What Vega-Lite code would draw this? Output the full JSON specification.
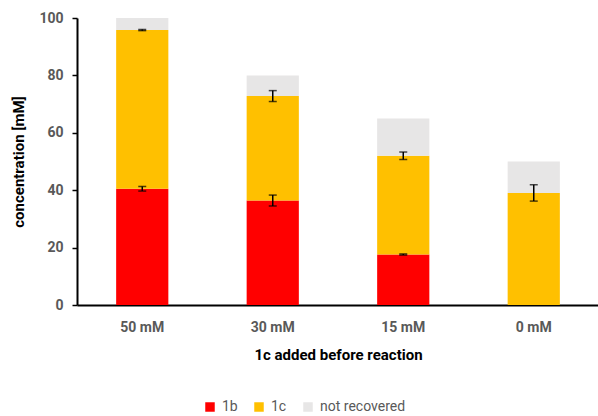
{
  "$schema": "https://vega.github.io/schema/vega-lite/v6.json",
  "width": 522,
  "height": 287,
  "autosize": "none",
  "padding": {"left": 77, "top": 18, "right": 0, "bottom": 111},
  "background": "white",
  "config": {
    "view": {"stroke": null},
    "font": "Roboto"
  },
  "datasets": {
    "bars": [
      {"condition": "50 mM", "component": "1b", "value": 40.5},
      {"condition": "50 mM", "component": "1c", "value": 55.3},
      {"condition": "50 mM", "component": "not recovered", "value": 4.2},
      {"condition": "30 mM", "component": "1b", "value": 36.4},
      {"condition": "30 mM", "component": "1c", "value": 36.4},
      {"condition": "30 mM", "component": "not recovered", "value": 7.2},
      {"condition": "15 mM", "component": "1b", "value": 17.6},
      {"condition": "15 mM", "component": "1c", "value": 34.4},
      {"condition": "15 mM", "component": "not recovered", "value": 13.0},
      {"condition": "0 mM", "component": "1b", "value": 0},
      {"condition": "0 mM", "component": "1c", "value": 39.0},
      {"condition": "0 mM", "component": "not recovered", "value": 11.0}
    ],
    "errors": [
      {"condition": "50 mM", "lo": 39.7, "hi": 41.3},
      {"condition": "50 mM", "lo": 95.6, "hi": 96.0},
      {"condition": "30 mM", "lo": 34.5, "hi": 38.3},
      {"condition": "30 mM", "lo": 70.9, "hi": 74.7},
      {"condition": "15 mM", "lo": 17.4, "hi": 17.8},
      {"condition": "15 mM", "lo": 50.7, "hi": 53.3},
      {"condition": "0 mM", "lo": 36.2, "hi": 41.9}
    ]
  },
  "encoding": {
    "x": {
      "field": "condition",
      "type": "nominal",
      "sort": ["50 mM", "30 mM", "15 mM", "0 mM"],
      "scale": {"paddingInner": 0.6, "paddingOuter": 0.3},
      "axis": {
        "title": "1c added before reaction",
        "titleFontSize": 15,
        "titleFontWeight": "bold",
        "titleColor": "#000000",
        "titlePadding": 13,
        "labelAngle": 0,
        "labelFontSize": 14,
        "labelFontWeight": "bold",
        "labelColor": "#595959",
        "labelPadding": 15,
        "ticks": false,
        "domainColor": "#000000",
        "domainWidth": 2
      }
    }
  },
  "layer": [
    {
      "data": {"name": "bars"},
      "mark": {"type": "bar"},
      "encoding": {
        "y": {
          "field": "value",
          "type": "quantitative",
          "stack": "zero",
          "scale": {"domain": [0, 100]},
          "axis": {
            "title": "concentration [mM]",
            "titleFontSize": 15,
            "titleFontWeight": "bold",
            "titleColor": "#000000",
            "titlePadding": 12,
            "values": [0, 20, 40, 60, 80, 100],
            "grid": false,
            "labelFontSize": 14,
            "labelFontWeight": "bold",
            "labelColor": "#595959",
            "labelPadding": 9,
            "tickColor": "#000000",
            "tickSize": 5,
            "tickWidth": 1.5,
            "domainColor": "#000000",
            "domainWidth": 2
          }
        },
        "color": {
          "field": "component",
          "type": "nominal",
          "scale": {
            "domain": ["1b", "1c", "not recovered"],
            "range": ["#FF0000", "#FFC000", "#E7E6E6"]
          },
          "legend": {
            "title": null,
            "orient": "none",
            "direction": "horizontal",
            "legendX": 126,
            "legendY": 382,
            "symbolType": "square",
            "symbolSize": 90,
            "symbolStrokeWidth": 0,
            "labelFontSize": 14,
            "labelColor": "#595959",
            "columnPadding": 14,
            "labelOffset": 5
          }
        },
        "order": {"field": "component", "sort": "ascending"}
      }
    },
    {
      "data": {"name": "errors"},
      "mark": {"type": "rule", "color": "#000000", "strokeWidth": 1.5},
      "encoding": {
        "y": {"field": "lo", "type": "quantitative"},
        "y2": {"field": "hi"}
      }
    },
    {
      "data": {"name": "errors"},
      "mark": {"type": "tick", "color": "#000000", "thickness": 1.5, "size": 8},
      "encoding": {
        "y": {"field": "lo", "type": "quantitative"}
      }
    },
    {
      "data": {"name": "errors"},
      "mark": {"type": "tick", "color": "#000000", "thickness": 1.5, "size": 8},
      "encoding": {
        "y": {"field": "hi", "type": "quantitative"}
      }
    }
  ]
}
